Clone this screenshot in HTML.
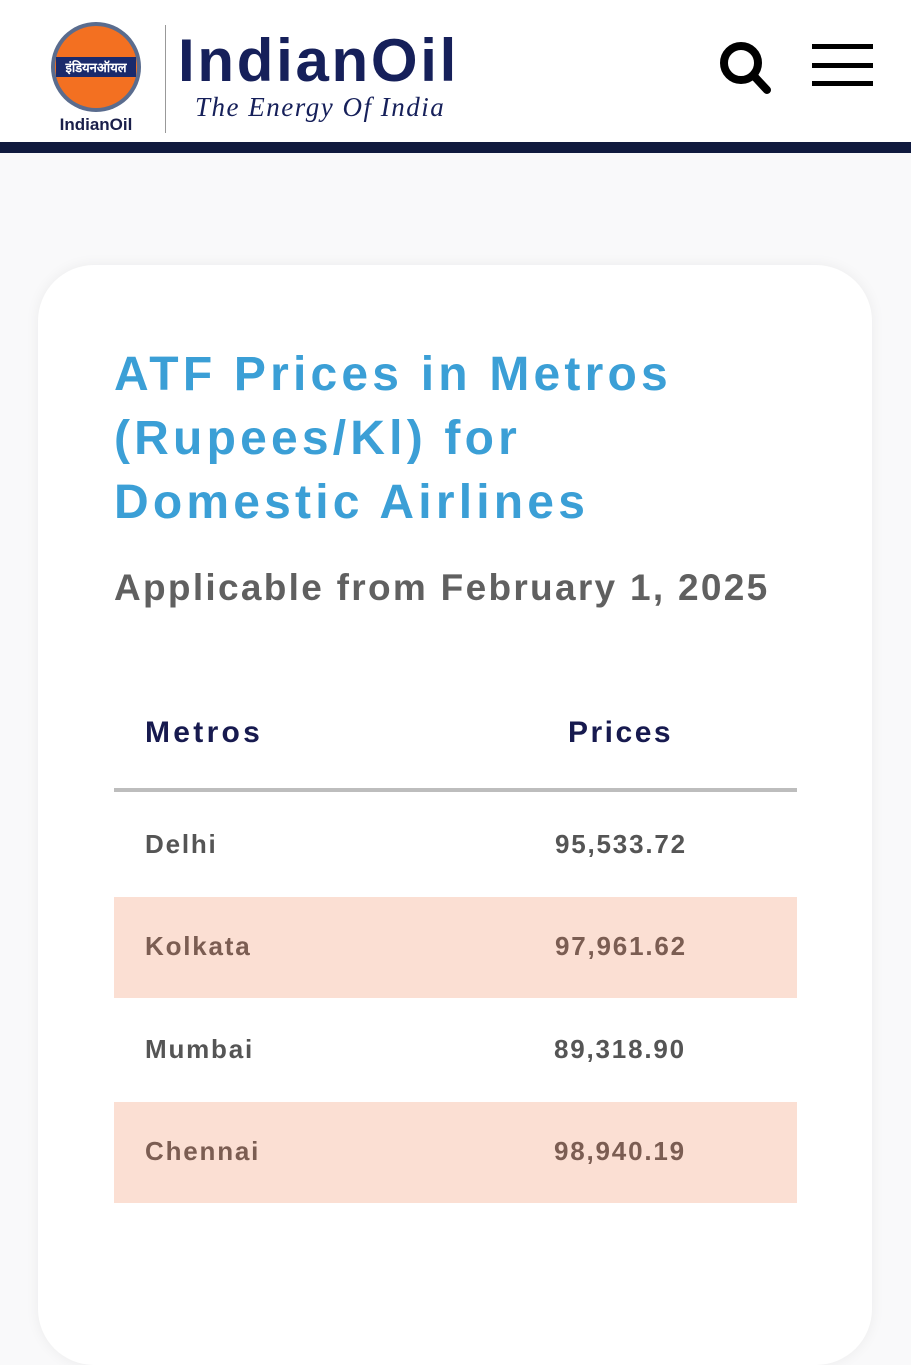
<!DOCTYPE html>
<html><head><meta charset="utf-8"><style>
body{margin:0;width:911px;height:1280px;background:#f9f9fa;font-family:"Liberation Sans",sans-serif;position:relative;overflow:hidden}
.hdr{position:absolute;left:0;top:0;width:911px;height:142px;background:#fff}
.bar{position:absolute;left:0;top:142px;width:911px;height:11px;background:#101a3e}
.card{position:absolute;left:38px;top:265px;width:834px;height:1100px;background:#fff;border-radius:56px;box-shadow:0 0 14px rgba(0,0,0,0.06)}
.t{position:absolute;font-weight:bold;white-space:nowrap}
.row{position:absolute;left:114px;width:683px;height:101px;background:#fbdfd3}
.v{font-size:26px;letter-spacing:1.8px}
</style></head><body>
<div class="hdr"></div>
<div class="bar"></div>
<svg style="position:absolute;left:50px;top:22px" width="100" height="112">
<circle cx="46" cy="45" r="45" fill="#5a6c8e"/>
<circle cx="46" cy="45" r="41" fill="#f37021"/>
<rect x="6" y="35" width="80" height="20" fill="#1a2a6c"/>
<text x="46" y="50" font-size="13" fill="#fff" text-anchor="middle" font-family="Liberation Sans" font-weight="bold">इंडियनऑयल</text>
<text x="46" y="108" font-size="17" fill="#1a1f4a" text-anchor="middle" font-family="Liberation Sans" font-weight="bold">IndianOil</text>
</svg>
<div style="position:absolute;left:165px;top:25px;width:1px;height:108px;background:#999"></div>
<div class="t" style="left:178px;top:26px;font-size:60px;color:#16205a;letter-spacing:2.7px">IndianOil</div>
<div class="t" style="left:195px;top:92px;font-size:27px;color:#16205a;font-style:italic;font-family:'Liberation Serif',serif;font-weight:normal;letter-spacing:1.5px">The Energy Of India</div>
<svg style="position:absolute;left:718px;top:40px" width="56" height="56"><circle cx="23" cy="23" r="17" fill="none" stroke="#000" stroke-width="8"/><line x1="36" y1="36" x2="49" y2="50" stroke="#000" stroke-width="8" stroke-linecap="round"/></svg>
<div style="position:absolute;left:812px;top:44px;width:61px;height:5px;background:#000"></div>
<div style="position:absolute;left:812px;top:63px;width:61px;height:5px;background:#000"></div>
<div style="position:absolute;left:812px;top:81px;width:61px;height:5px;background:#000"></div>
<div class="card"></div>
<div class="t" style="left:114px;top:343px;font-size:48px;line-height:64px;color:#3b9fd6;letter-spacing:4.2px">ATF Prices in Metros<br>(Rupees/Kl) for<br>Domestic Airlines</div>
<div class="t" style="left:114px;top:567px;font-size:37px;color:#606060;letter-spacing:2.3px">Applicable from February 1, 2025</div>
<div class="t" style="left:145px;top:716px;font-size:30px;color:#171a4f;letter-spacing:3.3px">Metros</div>
<div class="t" style="left:568px;top:716px;font-size:30px;color:#171a4f;letter-spacing:2.5px">Prices</div>
<div style="position:absolute;left:114px;top:788px;width:683px;height:4px;background:#bdbdbd"></div>
<div class="row" style="top:897px"></div>
<div class="row" style="top:1102px"></div>
<div class="t v" style="left:145px;top:829px;color:#555">Delhi</div>
<div class="t v" style="left:555px;top:829px;color:#555">95,533.72</div>
<div class="t v" style="left:145px;top:931px;color:#7b5d52">Kolkata</div>
<div class="t v" style="left:555px;top:931px;color:#7b5d52">97,961.62</div>
<div class="t v" style="left:145px;top:1034px;color:#555">Mumbai</div>
<div class="t v" style="left:554px;top:1034px;color:#555">89,318.90</div>
<div class="t v" style="left:145px;top:1136px;color:#7b5d52">Chennai</div>
<div class="t v" style="left:554px;top:1136px;color:#7b5d52">98,940.19</div>
</body></html>
